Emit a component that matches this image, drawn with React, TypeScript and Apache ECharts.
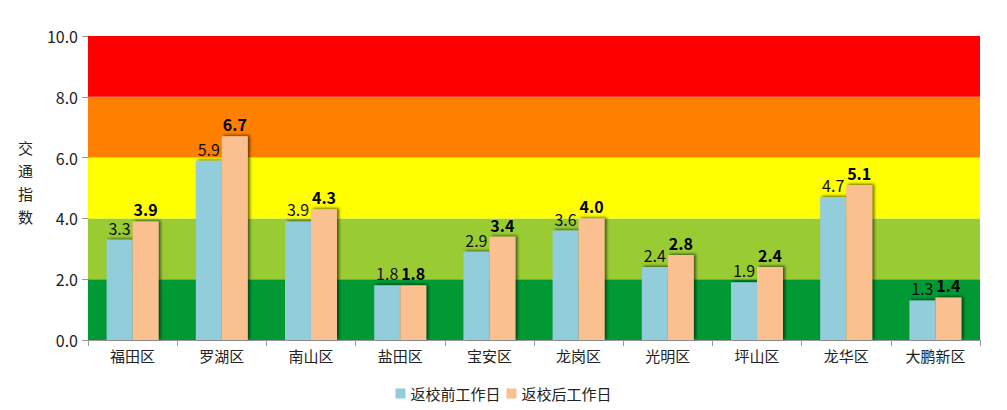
import React, { useEffect, useRef } from "react";
import * as echarts from "echarts";

const categories = ["福田区", "罗湖区", "南山区", "盐田区", "宝安区", "龙岗区", "光明区", "坪山区", "龙华区", "大鹏新区"];
const beforeValues = [3.3, 5.9, 3.9, 1.8, 2.9, 3.6, 2.4, 1.9, 4.7, 1.3];
const afterValues = [3.9, 6.7, 4.3, 1.8, 3.4, 4.0, 2.8, 2.4, 5.1, 1.4];
const bandBounds = [0, 2, 4, 6, 8, 10];
const bandColors = ["#009933", "#99cc33", "#ffff00", "#ff8000", "#ff0000"];
const seriesNames = ["返校前工作日", "返校后工作日"];
const yAxisTitle = "交\n通\n指\n数";

const FONT = "'Noto Sans CJK SC', 'Noto Sans', sans-serif";

export default function App() {
  const ref = useRef<HTMLDivElement>(null);
  useEffect(() => {
    const chart = echarts.init(ref.current!, undefined, { renderer: "svg" });
    const bands = bandColors.map((c, i) => [
      { yAxis: bandBounds[i], itemStyle: { color: c, opacity: 1 } },
      { yAxis: bandBounds[i + 1] },
    ]);
    const shadow = {
      shadowColor: "rgba(0,0,0,0.6)",
      shadowBlur: 3,
      shadowOffsetX: 2,
      shadowOffsetY: -1,
    };
    chart.setOption({
      animation: false,
      textStyle: { fontFamily: FONT },
      grid: { left: 88, right: 27, top: 36, bottom: 70 },
      graphic: [
        {
          type: "text",
          left: 18,
          top: 136,
          style: {
            text: yAxisTitle,
            fontSize: 15,
            lineHeight: 23,
            fill: "#222",
            fontFamily: FONT,
            textAlign: "left",
          },
        },
      ],
      legend: {
        bottom: 4,
        left: "center",
        itemWidth: 10,
        itemHeight: 10,
        itemGap: 6,
        icon: "rect",
        textStyle: { fontSize: 15, color: "#222", fontFamily: FONT },
        data: seriesNames,
      },
      xAxis: {
        type: "category",
        data: categories,
        axisLine: { lineStyle: { color: "#999" } },
        axisTick: { show: true, length: 6, lineStyle: { color: "#999" } },
        axisLabel: { fontSize: 15, color: "#222", margin: 8, fontFamily: FONT },
      },
      yAxis: {
        type: "value",
        min: 0,
        max: 10,
        interval: 2,
        axisLine: { show: true, lineStyle: { color: "#999" } },
        axisTick: { show: true, length: 6, lineStyle: { color: "#999" } },
        splitLine: { show: false },
        axisLabel: {
          fontSize: 16,
          color: "#222",
          margin: 10,
          formatter: (v: number) => v.toFixed(1),
          fontFamily: FONT,
        },
      },
      series: [
        {
          type: "line",
          data: [],
          z: 0,
          silent: true,
          markArea: { silent: true, data: bands },
        },
        {
          name: seriesNames[0],
          type: "bar",
          data: beforeValues,
          barWidth: 26,
          barGap: "0%",
          z: 3,
          itemStyle: { color: "#92cddc", ...shadow },
          label: {
            show: true,
            position: "top",
            distance: 4,
            fontSize: 16,
            color: "#111",
            formatter: (p: any) => p.value.toFixed(1),
            fontFamily: FONT,
          },
        },
        {
          name: seriesNames[1],
          type: "bar",
          data: afterValues,
          barWidth: 26,
          barGap: "0%",
          z: 3,
          itemStyle: { color: "#fac090", ...shadow },
          label: {
            show: true,
            position: "top",
            distance: 4,
            fontSize: 16,
            fontWeight: "bold",
            color: "#000",
            formatter: (p: any) => p.value.toFixed(1),
            fontFamily: FONT,
          },
        },
      ],
    });
    return () => chart.dispose();
  }, []);
  return <div ref={ref} style={{ width: 1007, height: 410, position: "absolute", left: 0, top: 0 }} />;
}
